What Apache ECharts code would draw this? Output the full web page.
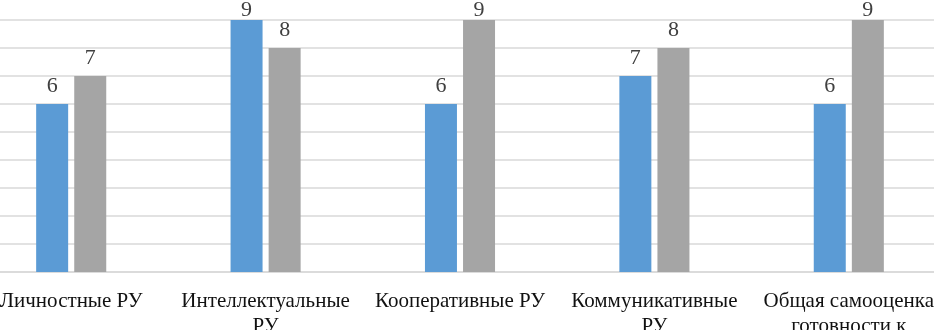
<!DOCTYPE html>
<html>
<head>
<meta charset="utf-8">
<script src="https://cdn.jsdelivr.net/npm/echarts@6/dist/echarts.min.js"></script>
<style>html,body{margin:0;padding:0;background:#fff}#c{width:934px;height:330px}</style>
</head>
<body>
<div id="c"></div>
<script>
const categories = ["Личностные РУ", "Интеллектуальные РУ", "Кооперативные РУ", "Коммуникативные РУ", "Общая самооценка готовности к развитию РУ"];
const seriesA = [6, 9, 6, 7, 6];
const seriesB = [7, 8, 9, 8, 9];
const yTicks = { min: 0, max: 9, interval: 1 };

const font = '"Liberation Serif", "Times New Roman", serif';
const labelSize = 21;
const maxLabelWidth = 182;
const ctx = document.createElement('canvas').getContext('2d');
ctx.font = labelSize + 'px ' + font;
function wrap(text) {
  const words = text.split(' ');
  const lines = [];
  let cur = '';
  for (const w of words) {
    const test = cur ? cur + ' ' + w : w;
    if (cur && ctx.measureText(test).width > maxLabelWidth) { lines.push(cur); cur = w; }
    else cur = test;
  }
  if (cur) lines.push(cur);
  return lines.join('\n');
}
// Labels of bars reaching the top of the plot are pulled inside the chart area (as in the original)
function items(vals) {
  return vals.map(v => v >= yTicks.max ? { value: v, label: { distance: -1 } } : v);
}

const chart = echarts.init(document.getElementById('c'), null, { renderer: 'canvas' });
chart.setOption({
  animation: false,
  backgroundColor: '#ffffff',
  grid: { left: -26, right: -12, top: 20, bottom: 58, containLabel: false, outerBoundsMode: 'none' },
  xAxis: {
    type: 'category',
    data: categories,
    axisLine: { show: true, lineStyle: { color: '#d9d9d9', width: 1.5 } },
    axisTick: { show: false },
    axisLabel: {
      interval: 0, margin: 17, fontFamily: font, fontSize: labelSize, color: '#111111',
      lineHeight: 25, hideOverlap: false, formatter: wrap
    }
  },
  yAxis: {
    type: 'value', min: yTicks.min, max: yTicks.max, interval: yTicks.interval,
    axisLine: { show: false }, axisTick: { show: false }, axisLabel: { show: false },
    splitLine: { lineStyle: { color: '#d9d9d9', width: 1.5 } }
  },
  series: [
    { type: 'bar', data: items(seriesA), barWidth: 32, barGap: '19%', itemStyle: { color: '#5b9bd5' },
      label: { show: true, position: 'top', distance: 7, fontFamily: font, fontSize: 22, color: '#404040' } },
    { type: 'bar', data: items(seriesB), barWidth: 32, itemStyle: { color: '#a5a5a5' },
      label: { show: true, position: 'top', distance: 7, fontFamily: font, fontSize: 22, color: '#404040' } }
  ]
});
</script>
</body>
</html>
